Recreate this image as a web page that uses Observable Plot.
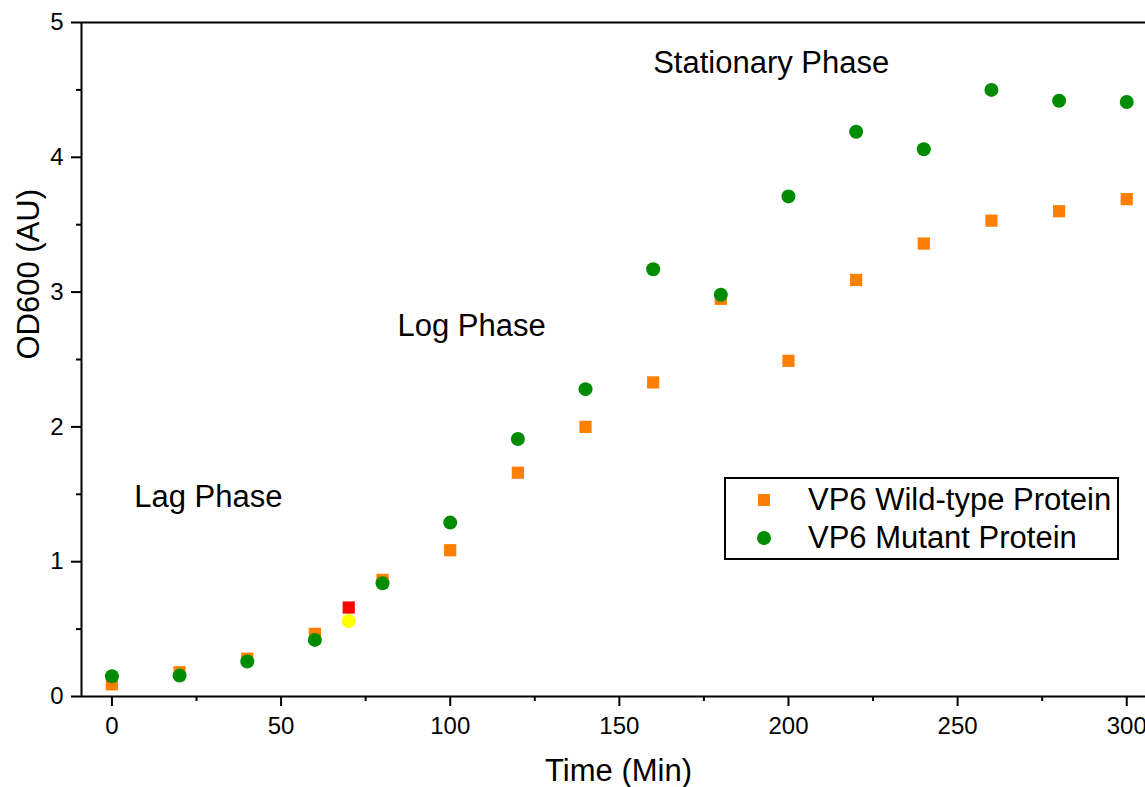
<!DOCTYPE html>
<html><head><meta charset="utf-8">
<script src="https://cdn.jsdelivr.net/npm/d3@7"></script>
<script src="https://cdn.jsdelivr.net/npm/@observablehq/plot@0.6"></script>
<style>
html,body{margin:0;padding:0;background:#fff;overflow:hidden;}
#wrap{position:relative;width:1145px;height:787px;overflow:hidden;}
#legend{position:absolute;left:724px;top:477px;}
</style></head><body><div id="wrap"></div>
<script>
const timeMin = [0,20,40,60,80,100,120,140,160,180,200,220,240,260,280,300];
const wildTypeOD = [0.09,0.18,0.28,0.465,0.865,1.085,1.66,2.0,2.33,2.95,2.49,3.09,3.36,3.53,3.60,3.69];
const mutantOD = [0.15,0.155,0.26,0.42,0.84,1.29,1.91,2.28,3.17,2.98,3.71,4.19,4.06,4.50,4.42,4.41];
const highlightTime = [70];
const highlightWildTypeOD = [0.66];
const highlightMutantOD = [0.56];
const phaseLabels = ["Lag Phase","Log Phase","Stationary Phase"];
const phaseTime = [6.6, 84.4, 160];
const phaseOD = [1.477, 2.75, 4.70];
const xMajorTicks = [0,50,100,150,200,250,300];
const xMinorTicks = [25,75,125,175,225,275];
const yMajorTicks = [0,1,2,3,4,5];
const yMinorTicks = [0.5,1.5,2.5,3.5,4.5];
const seriesNames = ["VP6 Wild-type Protein","VP6 Mutant Protein"];
const xTitle = "Time (Min)";
const yTitle = "OD600 (AU)";

const ORANGE = "#FF8000", GREEN = "#008C00", RED = "#FF0000", YELLOW = "#FFFF00";
const FONT = "'Liberation Sans', Arial, sans-serif";

const wt = timeMin.map((t,i)=>({t, od: wildTypeOD[i]}));
const mut = timeMin.map((t,i)=>({t, od: mutantOD[i]}));
const hlWT = highlightTime.map((t,i)=>({t, od: highlightWildTypeOD[i]}));
const hlMut = highlightTime.map((t,i)=>({t, od: highlightMutantOD[i]}));
const phases = phaseLabels.map((label,i)=>({label, t: phaseTime[i], od: phaseOD[i]}));

const chart = Plot.plot({
  width: 1155, height: 787,
  marginLeft: 81, marginRight: 0, marginTop: 22, marginBottom: 91,
  style: {fontFamily: FONT, fontSize: "24px", color: "#000", background: "transparent", maxWidth: "none", overflow: "visible"},
  x: {domain: [-9, 308.5]},
  y: {domain: [0, 5]},
  marks: [
    Plot.axisX({ticks: xMajorTicks, tickSize: 10, tickPadding: 10, tickFormat: d => String(d), label: null, strokeWidth: 2, fill: "#000"}),
    Plot.axisX({ticks: xMinorTicks, tickSize: 5, tickFormat: () => "", label: null, strokeWidth: 2}),
    Plot.axisY({ticks: yMajorTicks, tickSize: 10, tickPadding: 8, tickFormat: d => String(d), label: null, strokeWidth: 2, fill: "#000"}),
    Plot.axisY({ticks: yMinorTicks, tickSize: 5, tickFormat: () => "", label: null, strokeWidth: 2}),
    Plot.ruleY([0], {stroke: "#000", strokeWidth: 2}),
    Plot.ruleY([5], {stroke: "#000", strokeWidth: 2}),
    Plot.ruleX([-9], {stroke: "#000", strokeWidth: 2}),
    Plot.dot(wt, {x: "t", y: "od", symbol: "square", r: 6.9, fill: ORANGE, stroke: null}),
    Plot.dot(hlWT, {x: "t", y: "od", symbol: "square", r: 6.9, fill: RED, stroke: null}),
    Plot.dot(mut, {x: "t", y: "od", symbol: "circle", r: 7, fill: GREEN, stroke: null}),
    Plot.dot(hlMut, {x: "t", y: "od", symbol: "circle", r: 7, fill: YELLOW, stroke: null}),
    Plot.text(phases, {x: "t", y: "od", text: "label", textAnchor: "start", lineAnchor: "middle", fontSize: 31, fill: "#000"}),
    Plot.text([xTitle], {frameAnchor: "bottom", dy: 74.4, lineAnchor: "middle", fontSize: 31, fill: "#000"}),
    Plot.text([yTitle], {frameAnchor: "left", dx: -52.5, rotate: -90, lineAnchor: "middle", fontSize: 31, fill: "#000"})
  ]
});
const wrap = document.getElementById("wrap");
wrap.appendChild(chart);

// legend
const leg = d3.create("svg").attr("id","legend").attr("width",395).attr("height",83)
  .style("font-family", FONT);
leg.append("rect").attr("x",1).attr("y",1).attr("width",393).attr("height",81)
  .attr("fill","#fff").attr("stroke","#000").attr("stroke-width",2);
leg.append("rect").attr("x",34).attr("y",17).attr("width",12).attr("height",12).attr("fill",ORANGE);
leg.append("circle").attr("cx",40).attr("cy",61).attr("r",7).attr("fill",GREEN);
leg.selectAll("text.lbl").data(seriesNames).join("text").attr("class","lbl")
  .attr("x",84).attr("y",(d,i)=> i===0 ? 33 : 71)
  .attr("font-size",31).attr("fill","#000").text(d=>d);
wrap.appendChild(leg.node());
</script>
</body></html>
